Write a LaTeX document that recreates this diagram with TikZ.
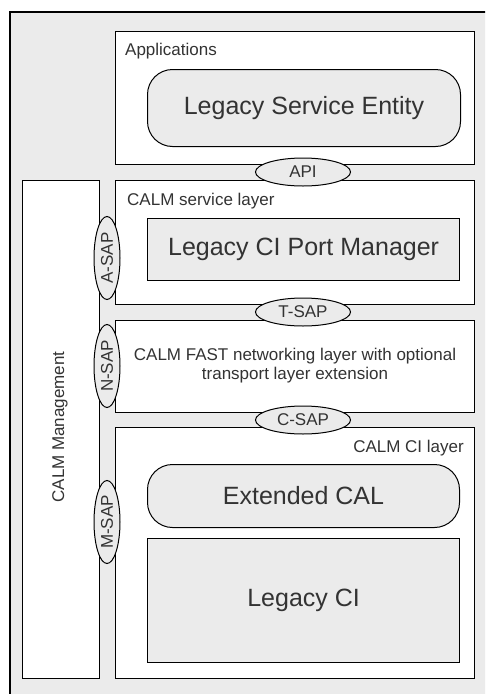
\documentclass[tikz,border=0pt]{standalone}
\usepackage{fontspec}
\setmainfont{Liberation Sans}
\usetikzlibrary{shapes.geometric}

\definecolor{panel}{HTML}{EBEBEB}
\definecolor{ink}{HTML}{333333}

\tikzset{
  layer/.style={draw, line width=1.2pt, fill=white, anchor=north west, inner sep=0pt},
  entity/.style={draw, line width=1pt, fill=panel, rounded corners=25pt, anchor=north west,
    inner sep=0pt, text=ink, font=\fontsize{25}{28}\selectfont},
  block/.style={draw, line width=1.2pt, fill=panel, anchor=north west, inner sep=0pt,
    text=ink, font=\fontsize{25}{28}\selectfont},
  sap/.style={draw, ellipse, line width=1pt, fill=panel, inner sep=0pt, minimum width=95pt,
    minimum height=28pt, text=ink, font=\fontsize{17}{19}\selectfont},
  vsap/.style={sap, rotate=90, minimum width=83pt, minimum height=26pt},
  caption/.style={text=ink, inner sep=0pt, font=\fontsize{17}{19}\selectfont}
}

\begin{document}
\begin{tikzpicture}[x=1pt, y=-1pt]

\useasboundingbox (0,0) rectangle (485,694);
\clip (0,0) rectangle (485,694);

% outer frame
\draw [line width=1.2pt, fill=panel] (10,12) rectangle (500,710);

% management column
\node [layer, minimum width=77pt, minimum height=498pt] (mgmt) at (22,180) {};
\node [caption, rotate=90] (mgmtlabel) at (60,427) {CALM Management};

% layers
\node [layer, minimum width=359pt, minimum height=133pt] (app) at (115,31) {};
\node [layer, minimum width=359pt, minimum height=124pt] (svc) at (115,180) {};
\node [layer, minimum width=359pt, minimum height=92pt] (fast) at (115,320) {};
\node [layer, minimum width=359pt, minimum height=251pt] (ci) at (115,427) {};

\node [caption, anchor=base west] (applabel) at (125,55) {Applications};
\node [caption, anchor=base west] (svclabel) at (127,205) {CALM service layer};
\node [caption, align=center] (fastlabel) at (295,366)
  {CALM FAST networking layer with optional\\transport layer extension};
\node [caption, anchor=base east] (cilabel) at (464,452) {CALM CI layer};

% entities
\node [entity, minimum width=313pt, minimum height=77pt] (lse) at (147,69) {};
\node [text=ink, font=\fontsize{25}{28}\selectfont] at (lse.center) {Legacy Service Entity};
\node [block, minimum width=312pt, minimum height=62pt] (pm) at (147,218) {};
\node [text=ink, font=\fontsize{25}{28}\selectfont] at (pm.center) {Legacy CI Port Manager};
\node [entity, minimum width=312pt, minimum height=63pt] (cal) at (147,464) {};
\node [text=ink, font=\fontsize{25}{28}\selectfont] at (cal.center) {Extended CAL};
\node [block, minimum width=312pt, minimum height=124pt] (lci) at (147,538) {};
\node [text=ink, font=\fontsize{25}{28}\selectfont] at (lci.center) {Legacy CI};

% service access points
\node [sap] (api) at (303,172) {API};
\node [sap] (tsap) at (303,312) {T-SAP};
\node [sap] (csap) at (303,420) {C-SAP};
\node [vsap] (asap) at (107,258) {A-SAP};
\node [vsap] (nsap) at (107,366) {N-SAP};
\node [vsap] (msap) at (107,522) {M-SAP};

\end{tikzpicture}
\end{document}
